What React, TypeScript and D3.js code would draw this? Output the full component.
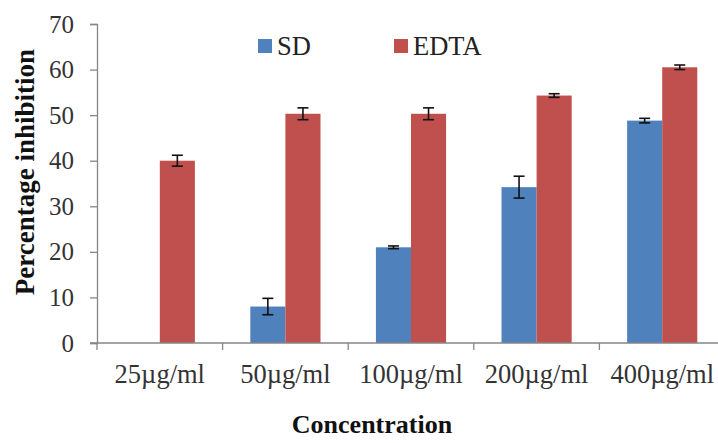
import * as d3 from 'd3'
import { useEffect, useRef } from 'react'

const categories = ['25µg/ml', '50µg/ml', '100µg/ml', '200µg/ml', '400µg/ml']
const series = ['SD', 'EDTA']
const sdValues = [0, 8, 21, 34.2, 48.8]
const sdErrors = [0, 1.8, 0.3, 2.4, 0.5]
const edtaValues = [40, 50.3, 50.3, 54.3, 60.5]
const edtaErrors = [1.2, 1.3, 1.3, 0.4, 0.5]
const yTicks = [0, 10, 20, 30, 40, 50, 60, 70]
const colors = ['#4F81BD', '#C0504D']

const App = () => {
  const ref = useRef<SVGSVGElement>(null)

  useEffect(() => {
    const svg = d3.select(ref.current)
    svg.selectAll('*').remove()

    const font = '"Liberation Serif", "Times New Roman", serif'
    const axisColor = '#868686'

    const x0 = d3.scaleBand().domain(categories).range([97, 725]).padding(0)
    const x1 = d3
      .scaleBand()
      .domain(series)
      .range([0, x0.bandwidth()])
      .paddingInner(0)
      .paddingOuter(0.79)
    const y = d3.scaleLinear().domain([0, 70]).range([343, 24])

    const data = categories.map((c, i) => ({
      cat: c,
      vals: [
        { s: 'SD', v: sdValues[i], e: sdErrors[i] },
        { s: 'EDTA', v: edtaValues[i], e: edtaErrors[i] },
      ],
    }))

    // bars
    const g = svg
      .selectAll('.grp')
      .data(data)
      .enter()
      .append('g')
      .attr('transform', (d) => 'translate(' + x0(d.cat) + ',0)')

    g.selectAll('rect')
      .data((d) => d.vals)
      .enter()
      .append('rect')
      .attr('x', (d) => x1(d.s)!)
      .attr('width', x1.bandwidth())
      .attr('y', (d) => y(d.v))
      .attr('height', (d) => y(0) - y(d.v))
      .attr('fill', (d, i) => colors[i])

    // error bars
    const eb = g
      .selectAll('.err')
      .data((d) => d.vals.filter((v) => v.e > 0))
      .enter()
      .append('g')
      .attr('stroke', '#111')
      .attr('stroke-width', 1.6)
    const cx = (d: any) => x1(d.s)! + x1.bandwidth() / 2
    eb.append('line')
      .attr('x1', cx)
      .attr('x2', cx)
      .attr('y1', (d) => y(d.v - d.e))
      .attr('y2', (d) => y(d.v + d.e))
    eb.append('line')
      .attr('x1', (d) => cx(d) - 5.5)
      .attr('x2', (d) => cx(d) + 5.5)
      .attr('y1', (d) => y(d.v + d.e))
      .attr('y2', (d) => y(d.v + d.e))
    eb.append('line')
      .attr('x1', (d) => cx(d) - 5.5)
      .attr('x2', (d) => cx(d) + 5.5)
      .attr('y1', (d) => y(d.v - d.e))
      .attr('y2', (d) => y(d.v - d.e))

    // y axis
    const yAxis = svg
      .append('g')
      .attr('transform', 'translate(97,0)')
      .call(d3.axisLeft(y).tickValues(yTicks).tickSize(7).tickPadding(16))
    yAxis.select('.domain').attr('stroke', axisColor).attr('stroke-width', 1.3)
    yAxis.selectAll('.tick line').attr('stroke', axisColor).attr('stroke-width', 1.3)
    yAxis
      .selectAll('.tick text')
      .attr('fill', '#333')
      .style('font-family', font)
      .style('font-size', '25px')

    // x axis
    const xAxisG = svg.append('g')
    xAxisG
      .append('line')
      .attr('x1', 90)
      .attr('x2', 725)
      .attr('y1', y(0))
      .attr('y2', y(0))
      .attr('stroke', axisColor)
      .attr('stroke-width', 1.3)
    const bounds = categories.map((c) => x0(c)!).concat([x0.range()[1]])
    xAxisG
      .selectAll('.xt')
      .data(bounds)
      .enter()
      .append('line')
      .attr('x1', (d) => d)
      .attr('x2', (d) => d)
      .attr('y1', y(0))
      .attr('y2', y(0) + 7)
      .attr('stroke', axisColor)
      .attr('stroke-width', 1.3)
    xAxisG
      .selectAll('.xl')
      .data(categories)
      .enter()
      .append('text')
      .attr('x', (d) => x0(d)! + x0.bandwidth() / 2)
      .attr('y', 383)
      .attr('text-anchor', 'middle')
      .attr('fill', '#333')
      .style('font-family', font)
      .style('font-size', '26.5px')
      .text((d) => d)

    // titles
    svg
      .append('text')
      .attr('x', 372)
      .attr('y', 433)
      .attr('text-anchor', 'middle')
      .attr('fill', '#111')
      .style('font-family', font)
      .style('font-weight', 'bold')
      .style('font-size', '26px')
      .text('Concentration')

    svg
      .append('text')
      .attr('transform', 'translate(34,172) rotate(-90)')
      .attr('text-anchor', 'middle')
      .attr('fill', '#111')
      .style('font-family', font)
      .style('font-weight', 'bold')
      .style('font-size', '27px')
      .text('Percentage inhibition')

    // legend
    const legX = [258, 394]
    const lg = svg
      .selectAll('.leg')
      .data(series)
      .enter()
      .append('g')
      .attr('transform', (d, i) => 'translate(' + legX[i] + ',39)')
    lg.append('rect')
      .attr('width', 14)
      .attr('height', 14)
      .attr('fill', (d, i) => colors[i])
    lg.append('text')
      .attr('x', 19)
      .attr('y', 15.5)
      .attr('fill', '#222')
      .style('font-family', font)
      .style('font-size', '26.5px')
      .text((d) => d)
  }, [])

  return (
    <svg
      ref={ref}
      width={718}
      height={443}
      style={{ position: 'absolute', left: 0, top: 0, background: '#fff' }}
    />
  )
}

export default App
